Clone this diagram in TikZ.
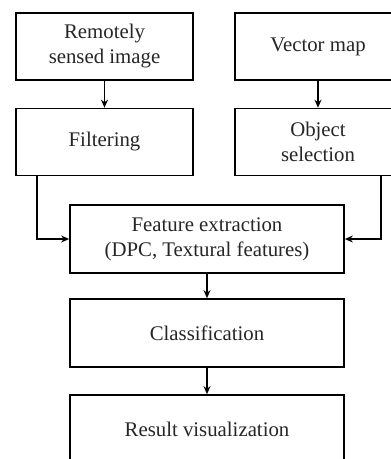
\documentclass[tikz,border=0pt]{standalone}
\usepackage{fontspec}
\setmainfont{Liberation Serif}
\usetikzlibrary{arrows.meta}
\begin{document}
\begin{tikzpicture}[x=1pt,y=-1pt,
  box/.style={draw=black,line width=1.7pt,align=center,inner sep=0pt,
    font=\fontsize{20.8}{25}\selectfont,text=black!85},
  lbox/.style={box,minimum width=177pt,minimum height=67pt},
  rbox/.style={box,minimum width=166pt,minimum height=67pt},
  cbox/.style={box,minimum width=274pt,minimum height=68pt},
  arr/.style={line width=1.5pt,-{Stealth[length=8pt,width=7pt]}}]
\useasboundingbox (0,0) rectangle (391,459);
\clip (0,0) rectangle (391,459);
\fill[white] (0,0) rectangle (391,459);
% input branches
\node[lbox] (rs)  at (104.5,46.5) {Remotely\\sensed image};
\node[lbox] (fil) at (104.5,142)  {Filtering};
\node[rbox] (vm)  at (318,46.5)   {Vector map};
\node[rbox] (os)  at (318,142)    {Object\\selection};
% main chain
\node[cbox] (fe)  at (207,239) {Feature extraction\\(DPC, Textural features)};
\node[cbox] (cl)  at (207,333) {Classification};
\node[cbox] (rv)  at (207,429) {Result visualization};
% side routing columns
\coordinate (lx) at (37,0);
\coordinate (rx) at (381,0);
% connectors
\draw[arr] (rs) -- (fil);
\draw[arr] (vm) -- (os);
\draw[arr] (fil.south -| lx) |- (fe.west);
\draw[arr] (os.south -| rx) |- (fe.east);
\draw[arr] (fe) -- (cl);
\draw[arr] (cl) -- (rv);
\end{tikzpicture}
\end{document}
